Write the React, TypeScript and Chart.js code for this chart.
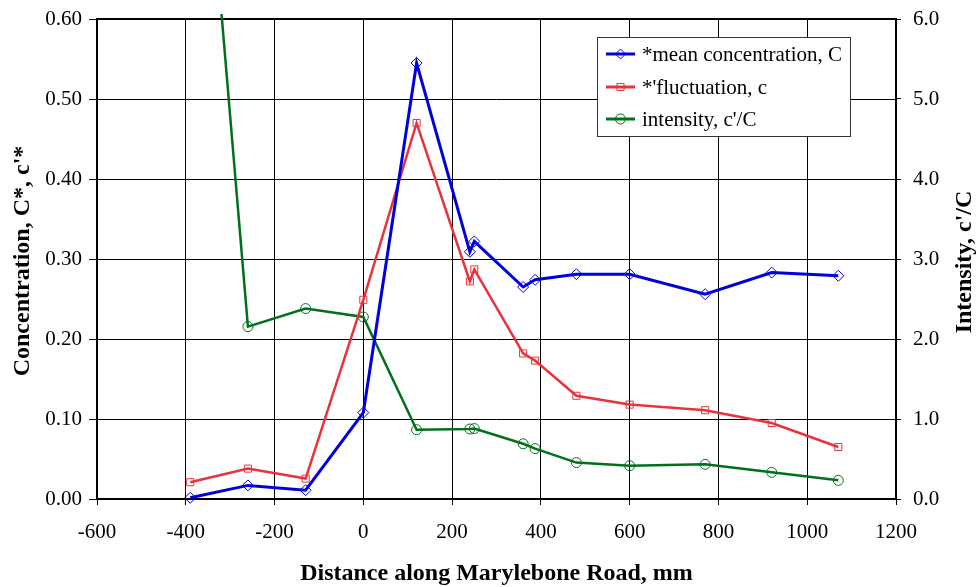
import React, { useEffect, useRef } from 'react';
import { Chart, registerables } from 'chart.js';

Chart.register(...registerables);

// Measurement positions along the road (mm)
const distances = [-390, -260, -130, 0, 120, 240, 250, 360, 387, 480, 600, 770, 920, 1070];
// Normalised mean concentration C*
const meanConcentration = [0.0015, 0.017, 0.011, 0.108, 0.545, 0.309, 0.322, 0.265, 0.274, 0.281, 0.281, 0.256, 0.283, 0.279];
// Normalised fluctuation c'*
const fluctuation = [0.021, 0.038, 0.0255, 0.249, 0.47, 0.272, 0.287, 0.182, 0.173, 0.129, 0.118, 0.111, 0.095, 0.065];
// Intensity c'/C (right axis)
const intensity = [10.7, 2.155, 2.38, 2.275, 0.866, 0.875, 0.88, 0.69, 0.63, 0.455, 0.416, 0.433, 0.333, 0.233];

const seriesLabels = ['*mean concentration, C', "*'fluctuation, c", "intensity, c'/C"];
const xTitle = 'Distance along Marylebone Road, mm';
const leftTitle = "Concentration, C*, c'*";
const rightTitle = "Intensity, c'/C";

const BLUE = '#0000dd';
const RED = '#e8333b';
const GREEN = '#00701d';
const SERIF = '"Liberation Serif", "Times New Roman", serif';

type Marker = 'rectRot' | 'rect' | 'circle';
const markers: Marker[] = ['rectRot', 'rect', 'circle'];
const colors = [BLUE, RED, GREEN];

function drawMarker(ctx: CanvasRenderingContext2D, style: Marker, x: number, y: number, r: number, color: string) {
  ctx.save();
  ctx.strokeStyle = color;
  ctx.lineWidth = 1;
  ctx.beginPath();
  if (style === 'rectRot') {
    ctx.moveTo(x, y - r);
    ctx.lineTo(x + r, y);
    ctx.lineTo(x, y + r);
    ctx.lineTo(x - r, y);
    ctx.closePath();
  } else if (style === 'rect') {
    const s = r * Math.SQRT1_2;
    ctx.rect(x - s, y - s, 2 * s, 2 * s);
  } else {
    ctx.arc(x, y, r, 0, Math.PI * 2);
  }
  ctx.stroke();
  ctx.restore();
}

const framePlugin = {
  id: 'plotFrame',
  beforeDatasetsDraw(chart: any) {
    const { ctx, chartArea: a } = chart;
    ctx.save();
    ctx.strokeStyle = '#000';
    ctx.lineWidth = 2;
    ctx.strokeRect(a.left, a.top, a.right - a.left, a.bottom - a.top);
    ctx.restore();
  },
};

const legendPlugin = {
  id: 'boxLegend',
  afterDatasetsDraw(chart: any) {
    const { ctx } = chart;
    const bx = 597;
    const by = 37;
    const bw = 253;
    const bh = 99;
    ctx.save();
    ctx.fillStyle = '#fff';
    ctx.fillRect(bx, by, bw, bh);
    ctx.strokeStyle = '#333';
    ctx.lineWidth = 1;
    ctx.strokeRect(bx + 0.5, by + 0.5, bw, bh);
    const rows = [54, 87, 119];
    seriesLabels.forEach((label, i) => {
      const y = rows[i];
      ctx.strokeStyle = colors[i];
      ctx.lineWidth = 3;
      ctx.beginPath();
      ctx.moveTo(606, y);
      ctx.lineTo(635, y);
      ctx.stroke();
      drawMarker(ctx, markers[i], 620.5, y, 5, colors[i]);
      ctx.fillStyle = '#000';
      ctx.font = `21px ${SERIF}`;
      ctx.textAlign = 'left';
      ctx.textBaseline = 'middle';
      ctx.fillText(label, 642, y + 1);
    });
    ctx.restore();
  },
};

const titlesPlugin = {
  id: 'axisTitles',
  afterDraw(chart: any) {
    const { ctx, chartArea: a } = chart;
    ctx.save();
    ctx.fillStyle = '#000';
    ctx.font = `bold 24px ${SERIF}`;
    ctx.textAlign = 'center';
    ctx.textBaseline = 'middle';
    ctx.fillText(xTitle, (a.left + a.right) / 2, 574);
    const midY = (a.top + a.bottom) / 2;
    ctx.save();
    ctx.translate(23, midY + 2);
    ctx.rotate(-Math.PI / 2);
    ctx.fillText(leftTitle, 0, 0);
    ctx.restore();
    ctx.save();
    ctx.translate(965, midY + 3);
    ctx.rotate(-Math.PI / 2);
    ctx.fillText(rightTitle, 0, 0);
    ctx.restore();
    ctx.restore();
  },
};

function toPoints(values: number[]) {
  return distances.map((x, i) => ({ x, y: values[i] }));
}

export default function App() {
  const canvasRef = useRef<HTMLCanvasElement | null>(null);

  useEffect(() => {
    document.body.style.margin = '0';
    const canvas = canvasRef.current;
    if (!canvas) return;
    const tickFont = { family: SERIF, size: 21 };
    const chart = new Chart(canvas, {
      type: 'line',
      data: {
        datasets: [
          {
            label: seriesLabels[0],
            data: toPoints(meanConcentration),
            yAxisID: 'y',
            borderColor: BLUE,
            borderWidth: 3,
            pointStyle: 'rectRot',
            pointRadius: 5.5,
            pointBorderWidth: 1,
            pointBorderColor: BLUE,
            pointBackgroundColor: 'rgba(0,0,0,0)',
            clip: 8,
          },
          {
            label: seriesLabels[1],
            data: toPoints(fluctuation),
            yAxisID: 'y',
            borderColor: RED,
            borderWidth: 2.5,
            pointStyle: 'rect',
            pointRadius: 5,
            pointBorderWidth: 1,
            pointBorderColor: RED,
            pointBackgroundColor: 'rgba(0,0,0,0)',
            clip: 8,
          },
          {
            label: seriesLabels[2],
            data: toPoints(intensity),
            yAxisID: 'y1',
            borderColor: GREEN,
            borderWidth: 2.5,
            pointStyle: 'circle',
            pointRadius: 5,
            pointBorderWidth: 1,
            pointBorderColor: GREEN,
            pointBackgroundColor: 'rgba(0,0,0,0)',
            clip: { left: 8, top: 5, right: 8, bottom: 8 },
          },
        ],
      },
      options: {
        responsive: false,
        animation: false,
        devicePixelRatio: 1,
        layout: { padding: { top: 19, left: 0, right: 0, bottom: 0 } },
        plugins: {
          legend: { display: false },
          tooltip: { enabled: false },
        },
        elements: { line: { tension: 0 } },
        scales: {
          x: {
            type: 'linear',
            min: -600,
            max: 1200,
            ticks: {
              stepSize: 200,
              font: tickFont,
              color: '#000',
              padding: 15,
              maxRotation: 0,
              callback: (v: any) => String(v),
            },
            grid: { color: '#000', lineWidth: 1, tickLength: 6 },
            border: { display: false },
            afterFit: (s: any) => {
              s.height = 88;
              s.paddingLeft = 0;
              s.paddingRight = 0;
            },
          },
          y: {
            type: 'linear',
            position: 'left',
            min: 0,
            max: 0.6,
            ticks: {
              stepSize: 0.1,
              font: tickFont,
              color: '#000',
              padding: 7,
              callback: (v: any) => Number(v).toFixed(2),
            },
            grid: { color: '#000', lineWidth: 1, tickLength: 8 },
            border: { display: false },
            afterFit: (s: any) => {
              s.width = 97;
              s.paddingTop = 0;
              s.paddingBottom = 0;
            },
          },
          y1: {
            type: 'linear',
            position: 'right',
            min: 0,
            max: 6,
            ticks: {
              stepSize: 1,
              font: tickFont,
              color: '#000',
              padding: 12,
              callback: (v: any) => Number(v).toFixed(1),
            },
            grid: { drawOnChartArea: false, color: '#000', lineWidth: 1, tickLength: 5 },
            border: { display: false },
            afterFit: (s: any) => {
              s.width = 81;
              s.paddingTop = 0;
              s.paddingBottom = 0;
            },
          },
        },
      },
      plugins: [framePlugin, legendPlugin, titlesPlugin],
    } as any);
    return () => chart.destroy();
  }, []);

  return (
    <div style={{ width: 977, height: 587, background: '#fff' }}>
      <canvas ref={canvasRef} width={977} height={587} style={{ display: 'block' }} />
    </div>
  );
}
